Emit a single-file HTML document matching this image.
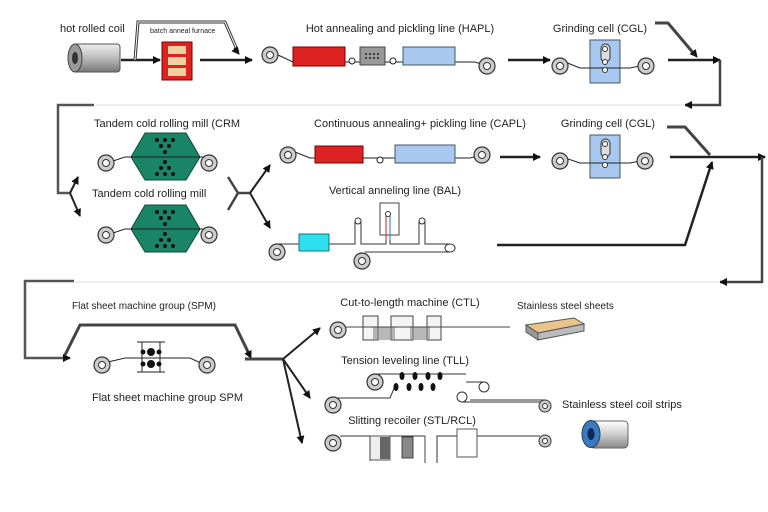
<!DOCTYPE html>
<html><head><meta charset="utf-8"><style>
body{margin:0;background:#fff}
svg{display:block}
text{font-family:"Liberation Sans",sans-serif;fill:#222}
</style></head><body>
<svg width="768" height="512" viewBox="0 0 768 512" xmlns="http://www.w3.org/2000/svg">
<defs>
<marker id="a" markerWidth="8" markerHeight="8" refX="7" refY="4" orient="auto" markerUnits="userSpaceOnUse"><path d="M0,0 L8,4 L0,8 Z" fill="#111"/></marker>
<g id="coil"><circle r="8" fill="#ccc" stroke="#333" stroke-width="1.2"/><circle r="3.5" fill="#fff" stroke="#333"/></g>
<g id="sc"><circle r="6" fill="#ccc" stroke="#333"/><circle r="2.5" fill="#fff" stroke="#333"/></g>
</defs>
<g stroke="#222" fill="none" stroke-width="1">
<path d="M121,60 H160" stroke-width="2.5" marker-end="url(#a)"/>
<path d="M135,60 L138,22 H225 L238,52" stroke-width="3" stroke="#333"/>
<path d="M135,60 L138,22 H225 L238,52" stroke-width="1" stroke="#fff"/>
<path d="M234,48 L239,54" marker-end="url(#a)"/>
<path d="M200,60 H252" stroke-width="2.5" marker-end="url(#a)"/>
<path d="M508,60 H550" stroke-width="2.5" marker-end="url(#a)"/>
<path d="M655,23 H668 L695,55" stroke-width="3" stroke="#444"/>
<path d="M693,52 L697,57" marker-end="url(#a)"/>
<path d="M668,60 H720" stroke-width="2.5" marker-end="url(#a)"/>
<path d="M720,60 V105 H685" stroke-width="2.5" stroke="#444" marker-end="url(#a)"/>
<path d="M685,105 H95" stroke="#ddd"/>
<path d="M94,105 H58 V193 H70" stroke-width="2.5" stroke="#555"/>
<path d="M70,193 L78,177" stroke-width="2" marker-end="url(#a)"/>
<path d="M70,193 L80,216" stroke-width="2" marker-end="url(#a)"/>
<path d="M228,177 L238,193 L228,210 M238,193 H250" stroke-width="2.5" stroke="#444"/>
<path d="M250,193 L270,165" stroke-width="2" marker-end="url(#a)"/>
<path d="M250,193 L270,228" stroke-width="2" marker-end="url(#a)"/>
<path d="M500,157 H540" stroke-width="2.5" marker-end="url(#a)"/>
<path d="M667,127 H685 L710,155" stroke-width="3" stroke="#444"/>
<path d="M670,157 H765" stroke-width="2.5" marker-end="url(#a)"/>
<path d="M762,157 V282 H720" stroke-width="2.5" stroke="#444" marker-end="url(#a)"/>
<path d="M720,282 H75" stroke="#ddd"/>
<path d="M74,281 H25 V358 H70" stroke-width="2.5" stroke="#555" marker-end="url(#a)"/>
<path d="M497,245 H685 L712,162" stroke-width="2.5" marker-end="url(#a)"/>
<path d="M65,355 L80,325 H235 L250,356" stroke-width="3" stroke="#444"/>
<path d="M247,350 L251,358" marker-end="url(#a)"/>
<path d="M245,359 H283" stroke-width="3" stroke="#444"/>
<path d="M283,359 L320,328" stroke-width="2" marker-end="url(#a)"/>
<path d="M283,359 L310,398" stroke-width="2" marker-end="url(#a)"/>
<path d="M283,359 L302,443" stroke-width="2" marker-end="url(#a)"/>
</g>

<text x="60" y="32" font-size="11">hot rolled coil</text>
<defs><linearGradient id="cy" x1="0" y1="0" x2="0" y2="1"><stop offset="0" stop-color="#eee"/><stop offset=".5" stop-color="#bbb"/><stop offset="1" stop-color="#777"/></linearGradient></defs>
<rect x="74" y="44" width="46" height="28" rx="3" fill="url(#cy)" stroke="#555"/>
<ellipse cx="75" cy="58" rx="7" ry="14" fill="#999" stroke="#444"/>
<ellipse cx="75" cy="58" rx="3" ry="6" fill="#333"/>
<text x="150" y="33" font-size="7">batch anneal furnace</text>
<rect x="162" y="42" width="30" height="38" fill="#d22" stroke="#700"/>
<rect x="168" y="46" width="18" height="8" fill="#f0d0a0"/>
<rect x="168" y="57" width="18" height="8" fill="#f0d0a0"/>
<rect x="168" y="68" width="18" height="8" fill="#f0d0a0"/>

<text x="400" y="32" font-size="11" text-anchor="middle">Hot annealing and pickling line (HAPL)</text>
<path d="M278,55 L293,62 H455 L475,62 L487,66" stroke="#222" fill="none"/>
<use href="#coil" x="270" y="55"/>
<rect x="293" y="47" width="52" height="19" fill="#d22" stroke="#700"/>
<circle cx="352" cy="61" r="3" fill="#fff" stroke="#222"/>
<rect x="360" y="47" width="25" height="18" fill="#999" stroke="#444"/>
<g fill="#222"><circle cx="366" cy="54" r="1"/><circle cx="370" cy="54" r="1"/><circle cx="374" cy="54" r="1"/><circle cx="378" cy="54" r="1"/><circle cx="366" cy="58" r="1"/><circle cx="370" cy="58" r="1"/><circle cx="374" cy="58" r="1"/><circle cx="378" cy="58" r="1"/></g>
<circle cx="393" cy="61" r="3" fill="#fff" stroke="#222"/>
<rect x="403" y="47" width="52" height="18" fill="#a8c8ef" stroke="#456"/>
<use href="#coil" x="487" y="66"/>

<text x="600" y="32" font-size="11" text-anchor="middle">Grinding cell (CGL)</text>
<rect x="590" y="40" width="30" height="43" fill="#a8c8ef" stroke="#456"/>
<path d="M565,62 L580,68 H630 L640,66" stroke="#222" fill="none"/>
<rect x="601" y="44" width="9" height="18" rx="4.5" fill="#ddd" stroke="#333"/>
<circle cx="605" cy="49" r="2.5" fill="#fff" stroke="#333"/>
<circle cx="605" cy="62" r="2.5" fill="#fff" stroke="#333"/>
<circle cx="605" cy="70" r="2.5" fill="#fff" stroke="#333"/>
<use href="#coil" x="560" y="66"/>
<use href="#coil" x="646" y="66"/>

<text x="94" y="127" font-size="11">Tandem cold rolling mill (CRM</text>
<g id="mill">
<polygon points="131,157 145,133 186,133 200,157 186,180 145,180" fill="#1a8466" stroke="#0b4d3a"/>
<path d="M113,161 L125,157 H205" stroke="#222" fill="none"/>
<g fill="#111"><circle cx="157" cy="140" r="2"/><circle cx="165" cy="140" r="2"/><circle cx="173" cy="140" r="2"/><circle cx="161" cy="146" r="2"/><circle cx="169" cy="146" r="2"/><circle cx="165" cy="152" r="2"/><circle cx="165" cy="162" r="2"/><circle cx="161" cy="168" r="2"/><circle cx="169" cy="168" r="2"/><circle cx="157" cy="174" r="2"/><circle cx="165" cy="174" r="2"/><circle cx="173" cy="174" r="2"/></g>
<use href="#coil" x="106" y="163"/>
<use href="#coil" x="209" y="163"/>
</g>
<text x="92" y="197" font-size="11">Tandem cold rolling mill</text>
<use href="#mill" y="72"/>

<text x="420" y="127" font-size="11" text-anchor="middle">Continuous annealing+ pickling line (CAPL)</text>
<path d="M295,152 L310,158 H470 L482,155" stroke="#222" fill="none"/>
<use href="#coil" x="288" y="155"/>
<rect x="315" y="146" width="48" height="17" fill="#d22" stroke="#700"/>
<circle cx="380" cy="160" r="3" fill="#fff" stroke="#222"/>
<rect x="395" y="145" width="60" height="18" fill="#a8c8ef" stroke="#456"/>
<use href="#coil" x="482" y="155"/>

<text x="608" y="127" font-size="11" text-anchor="middle">Grinding cell (CGL)</text>
<rect x="590" y="135" width="30" height="43" fill="#a8c8ef" stroke="#456"/>
<path d="M565,158 L580,163 H630 L640,161" stroke="#222" fill="none"/>
<rect x="601" y="139" width="9" height="18" rx="4.5" fill="#ddd" stroke="#333"/>
<circle cx="605" cy="144" r="2.5" fill="#fff" stroke="#333"/>
<circle cx="605" cy="157" r="2.5" fill="#fff" stroke="#333"/>
<circle cx="605" cy="165" r="2.5" fill="#fff" stroke="#333"/>
<use href="#coil" x="560" y="161"/>
<use href="#coil" x="645" y="161"/>

<text x="395" y="194" font-size="11" text-anchor="middle">Vertical anneling line (BAL)</text>
<rect x="380" y="203" width="19" height="32" fill="#fff" stroke="#444"/>
<path d="M277,244 H355 V222 A3,3 0 0 1 361,222 V244 H386 V214 A2,2 0 0 1 390,214 V244 H419 V222 A3,3 0 0 1 425,222 V244 H450" stroke="#333" fill="none"/>
<path d="M386,215 V240" stroke="#c22"/>
<path d="M390,215 V240" stroke="#27a"/>
<circle cx="358" cy="221" r="3" fill="#fff" stroke="#333"/>
<circle cx="388" cy="214" r="2.5" fill="#fff" stroke="#333"/>
<circle cx="422" cy="221" r="3" fill="#fff" stroke="#333"/>
<ellipse cx="450" cy="248" rx="5" ry="4" fill="#fff" stroke="#333"/>
<path d="M365,252 H450" stroke="#333"/>
<rect x="299" y="234" width="30" height="17" fill="#2ee0ee" stroke="#177"/>
<use href="#coil" x="277" y="252"/>
<use href="#coil" x="362" y="261"/>

<text x="72" y="309" font-size="10">Flat sheet machine group (SPM)</text>
<path d="M108,362 L125,358 H190 L205,365" stroke="#222" fill="none"/>
<path d="M137,342 H165 M137,372 H165 M142,342 V372 M160,342 V372" stroke="#222"/>
<g fill="#111"><circle cx="151" cy="352" r="4"/><circle cx="151" cy="364" r="4"/><circle cx="143" cy="352" r="2.5"/><circle cx="159" cy="352" r="2.5"/><circle cx="143" cy="364" r="2.5"/><circle cx="159" cy="364" r="2.5"/></g>
<use href="#coil" x="102" y="365"/>
<use href="#coil" x="207" y="365"/>
<text x="92" y="401" font-size="11">Flat sheet machine group SPM</text>

<text x="410" y="306" font-size="11" text-anchor="middle">Cut-to-length machine (CTL)</text>
<use href="#coil" x="338" y="330"/>
<g stroke="#444" fill="#f4f4f4"><rect x="363" y="316" width="15" height="24"/><rect x="391" y="316" width="22" height="24"/><rect x="427" y="316" width="14" height="24"/></g>
<rect x="373" y="327" width="22" height="13" fill="#888" opacity=".6"/>
<rect x="410" y="327" width="20" height="13" fill="#888" opacity=".6"/>
<path d="M345,327 H510" stroke="#444"/>
<text x="517" y="309" font-size="10">Stainless steel sheets</text>
<polygon points="526,325 574,318 584,324 538,333" fill="#e8c48a" stroke="#555"/>
<polygon points="526,325 538,333 538,340 526,332" fill="#999" stroke="#555"/>
<polygon points="538,333 584,324 584,331 538,340" fill="#bbb" stroke="#555"/>

<text x="405" y="364" font-size="11" text-anchor="middle">Tension leveling line (TLL)</text>
<path d="M375,374 H466 M333,398 L390,398 L395,386 M470,400 H545" stroke="#333" fill="none"/>
<use href="#coil" x="375" y="382"/>
<g fill="#111"><ellipse cx="402" cy="376" rx="2.5" ry="4"/><ellipse cx="415" cy="376" rx="2.5" ry="4"/><ellipse cx="428" cy="376" rx="2.5" ry="4"/><ellipse cx="440" cy="376" rx="2.5" ry="4"/><ellipse cx="396" cy="387" rx="2.5" ry="4"/><ellipse cx="409" cy="387" rx="2.5" ry="4"/><ellipse cx="421" cy="387" rx="2.5" ry="4"/><ellipse cx="433" cy="387" rx="2.5" ry="4"/></g>
<circle cx="484" cy="387" r="5" fill="#fff" stroke="#333"/>
<circle cx="462" cy="397" r="5" fill="#fff" stroke="#333"/>
<path d="M484,382 H466 M462,402 H545" stroke="#333"/>
<use href="#coil" x="333" y="405"/>
<use href="#sc" x="545" y="406"/>
<text x="562" y="408" font-size="11">Stainless steel coil strips</text>

<text x="412" y="424" font-size="11" text-anchor="middle">Slitting recoiler (STL/RCL)</text>
<path d="M340,436 H425 M437,463 V436 H540" stroke="#333" fill="none"/>
<use href="#coil" x="333" y="443"/>
<rect x="370" y="436" width="20" height="24" fill="#eee" stroke="#555"/>
<rect x="380" y="437" width="10" height="22" fill="#666"/>
<rect x="402" y="437" width="11" height="21" fill="#888" stroke="#444"/>
<path d="M370,436 V461 M425,436 V463" stroke="#444"/>
<rect x="457" y="429" width="20" height="28" fill="#fff" stroke="#555"/>
<use href="#sc" x="545" y="441"/>
<defs><linearGradient id="bc" x1="0" y1="0" x2="0" y2="1"><stop offset="0" stop-color="#fff"/><stop offset=".5" stop-color="#ccc"/><stop offset="1" stop-color="#888"/></linearGradient></defs>
<rect x="590" y="421" width="38" height="27" rx="4" fill="url(#bc)" stroke="#666"/>
<ellipse cx="591" cy="434" rx="9" ry="13.5" fill="#3a7ac0" stroke="#245"/>
<ellipse cx="591" cy="434" rx="3.5" ry="6" fill="#0b2a55"/>
</svg>
</body></html>
